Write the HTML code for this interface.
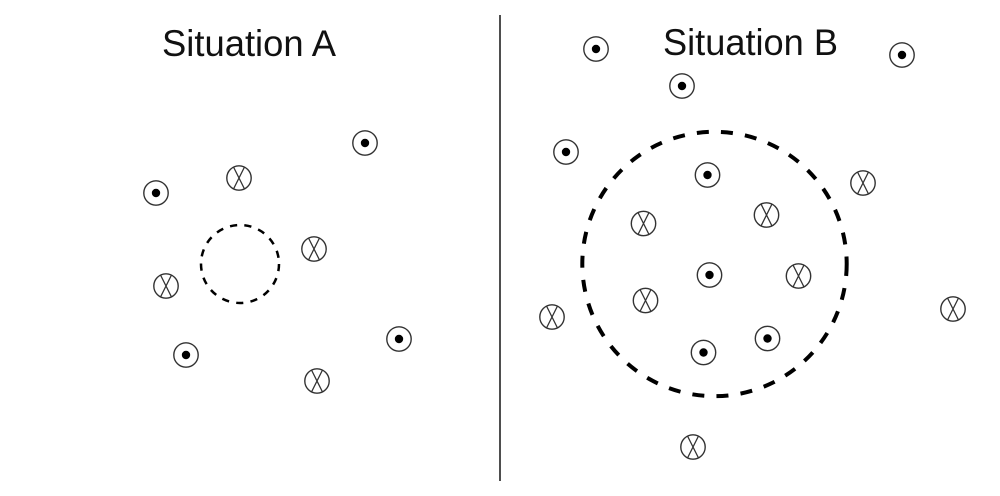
<!DOCTYPE html>
<html><head><meta charset="utf-8"><style>html,body{margin:0;padding:0;background:#fff}svg{display:block}</style></head><body>
<svg width="1000" height="496" viewBox="0 0 1000 496" xmlns="http://www.w3.org/2000/svg">
<defs>
<g id="o"><circle r="12.200" fill="#fff" stroke="#333" stroke-width="1.400"/><circle r="4.200" fill="#000"/></g>
<g id="x"><circle r="12.200" fill="#fff" stroke="#333" stroke-width="1.400"/><path d="M-5.500-11L5.500 11M5.500-11L-5.500 11" fill="none" stroke="#333" stroke-width="1.300"/></g>
</defs>
<rect width="1000" height="496" fill="#fff"/>
<line x1="500" y1="15" x2="500" y2="481" stroke="#222" stroke-width="1.600"/>
<text x="162" y="56" font-family="Liberation Sans, sans-serif" font-size="37" fill="#111" textLength="174" lengthAdjust="spacingAndGlyphs">Situation A</text>
<text x="663" y="55" font-family="Liberation Sans, sans-serif" font-size="37" fill="#111" textLength="175" lengthAdjust="spacingAndGlyphs">Situation B</text>
<circle cx="240" cy="264" r="39" fill="none" stroke="#000" stroke-width="2.500" stroke-dasharray="7.200 7.250"/>
<circle cx="714.500" cy="264" r="132.200" fill="none" stroke="#000" stroke-width="4" stroke-dasharray="12 12.200"/>
<use href="#o" x="156" y="193"/><use href="#o" x="365" y="143"/><use href="#o" x="186" y="355"/><use href="#o" x="399" y="339"/>
<use href="#x" x="239" y="178"/><use href="#x" x="314" y="249"/><use href="#x" x="166" y="286"/><use href="#x" x="317" y="381"/>
<use href="#o" x="596" y="49"/><use href="#o" x="682" y="86"/><use href="#o" x="902" y="55"/><use href="#o" x="566" y="152"/><use href="#o" x="707.500" y="175"/><use href="#o" x="709.500" y="275"/><use href="#o" x="767.500" y="338.500"/><use href="#o" x="703.500" y="352.500"/>
<use href="#x" x="863" y="183"/><use href="#x" x="643.500" y="223.500"/><use href="#x" x="766.500" y="215"/><use href="#x" x="798.500" y="276"/><use href="#x" x="645.500" y="300.500"/><use href="#x" x="552" y="317"/><use href="#x" x="953" y="309"/><use href="#x" x="693" y="447"/>
</svg>
</body></html>
